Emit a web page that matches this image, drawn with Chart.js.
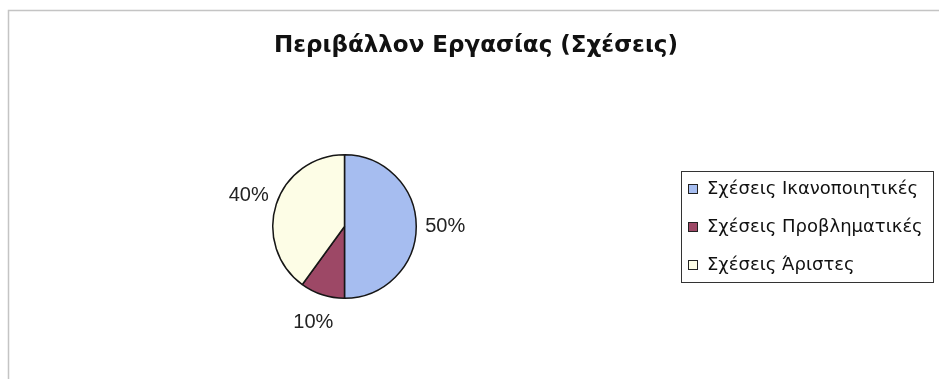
<!DOCTYPE html>
<html>
<head>
<meta charset="utf-8">
<script src="https://cdn.jsdelivr.net/npm/chart.js"></script>
<style>
  html, body { margin: 0; background: #fff; }
  #wrap { position: relative; width: 939px; height: 379px; }
</style>
</head>
<body>
<div id="wrap"><canvas id="pie" width="939" height="379"></canvas></div>
<script>
const chartTitle = 'Περιβάλλον Εργασίας (Σχέσεις)';
const categories = ['Σχέσεις Ικανοποιητικές', 'Σχέσεις Προβληματικές', 'Σχέσεις Άριστες'];
const shares = [50, 10, 40];
const sliceColors = ['#a6bdf0', '#9d4866', '#fdfde6'];

// frame, title, boxed legend and the percentage labels around the pie
const decor = {
  id: 'decor',
  beforeDraw(chart) {
    const ctx = chart.ctx;
    ctx.save();
    ctx.strokeStyle = '#c4c4c4';
    ctx.lineWidth = 1.5;
    ctx.beginPath();
    ctx.moveTo(8.5, 379);
    ctx.lineTo(8.5, 10.5);
    ctx.lineTo(939, 10.5);
    ctx.stroke();

    ctx.fillStyle = '#111';
    ctx.font = 'bold 23px "DejaVu Sans", sans-serif';
    ctx.textAlign = 'center';
    ctx.textBaseline = 'middle';
    ctx.fillText(chartTitle, 476, 46);
    ctx.restore();
  },
  afterDatasetsDraw(chart) {
    const ctx = chart.ctx;
    const meta = chart.getDatasetMeta(0);
    const total = shares.reduce((a, b) => a + b, 0);
    ctx.save();
    ctx.fillStyle = '#222';
    ctx.font = '20px "Liberation Sans", Arial, sans-serif';
    ctx.textAlign = 'center';
    ctx.textBaseline = 'middle';
    meta.data.forEach((arc, i) => {
      const p = arc.getProps(['x', 'y', 'startAngle', 'endAngle', 'outerRadius'], true);
      const mid = (p.startAngle + p.endAngle) / 2;
      const r = p.outerRadius + 29;
      const pct = Math.round(shares[i] / total * 100) + '%';
      ctx.fillText(pct, p.x + Math.cos(mid) * r, p.y + Math.sin(mid) * r);
    });

    // legend
    ctx.strokeStyle = '#333';
    ctx.lineWidth = 1;
    ctx.strokeRect(681.5, 171.5, 252, 111);
    ctx.font = '18px "DejaVu Sans", sans-serif';
    ctx.textAlign = 'left';
    categories.forEach((name, i) => {
      const cy = 189 + i * 38;
      ctx.fillStyle = sliceColors[i];
      ctx.fillRect(688.5, cy - 4.5, 9, 9);
      ctx.strokeStyle = '#222';
      ctx.strokeRect(688.5, cy - 4.5, 9, 9);
      ctx.fillStyle = '#111';
      ctx.fillText(name, 707, cy);
    });
    ctx.restore();
  }
};

new Chart(document.getElementById('pie'), {
  type: 'pie',
  data: {
    labels: categories,
    datasets: [{
      data: shares,
      backgroundColor: sliceColors,
      borderColor: '#161616',
      borderWidth: 1.5
    }]
  },
  options: {
    responsive: false,
    animation: false,
    layout: { padding: { left: 272, right: 522, top: 154, bottom: 80 } },
    plugins: {
      legend: { display: false },
      tooltip: { enabled: false }
    }
  },
  plugins: [decor]
});
</script>
</body>
</html>
